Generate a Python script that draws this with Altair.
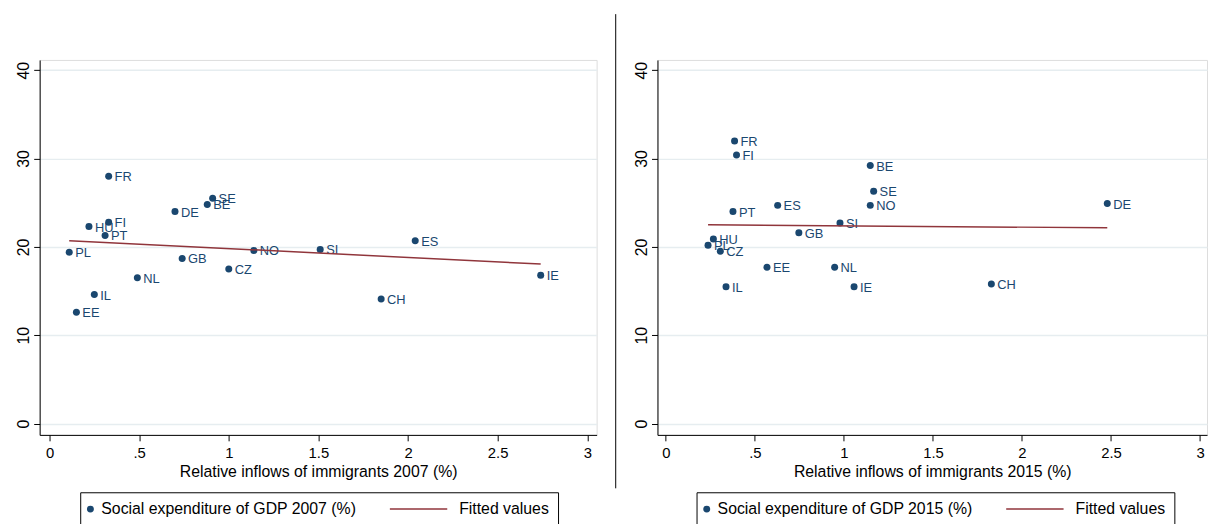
import altair as alt
import pandas as pd

# ---------------- data ----------------
countries_2007 = ["PL", "EE", "IL", "HU", "FI", "PT", "FR", "NL", "DE",
                  "GB", "BE", "SE", "CZ", "NO", "SI", "CH", "ES", "IE"]
inflows_2007 = [0.11, 0.15, 0.25, 0.22, 0.33, 0.31, 0.33, 0.49, 0.70,
                0.74, 0.88, 0.91, 1.00, 1.14, 1.51, 1.85, 2.04, 2.74]
social_2007 = [19.4, 12.6, 14.6, 22.3, 22.8, 21.3, 28.0, 16.5, 24.0,
               18.7, 24.8, 25.5, 17.5, 19.6, 19.7, 14.1, 20.7, 16.8]

countries_2015 = ["FR", "FI", "BE", "SE", "NO", "ES", "PT", "SI", "GB",
                  "HU", "PL", "CZ", "EE", "NL", "IL", "IE", "DE", "CH"]
inflows_2015 = [0.386, 0.397, 1.148, 1.167, 1.148, 0.628, 0.377, 0.978, 0.747,
                0.267, 0.237, 0.306, 0.568, 0.948, 0.338, 1.057, 2.479, 1.828]
social_2015 = [32.0, 30.4, 29.2, 26.3, 24.7, 24.7, 24.0, 22.7, 21.6,
               20.9, 20.2, 19.5, 17.7, 17.7, 15.5, 15.5, 24.9, 15.8]

series_2007 = "Social expenditure of GDP 2007 (%)"
series_2015 = "Social expenditure of GDP 2015 (%)"
fit_label = "Fitted values"
xtitle_2007 = "Relative inflows of immigrants 2007 (%)"
xtitle_2015 = "Relative inflows of immigrants 2015 (%)"

x_ticks = [0, 0.5, 1, 1.5, 2, 2.5, 3]
y_ticks = [0, 10, 20, 30, 40]

# ---------------- style ----------------
NAVY = "#1a476f"
MAROON = "#90353b"
GRID = "#e6edf0"
FONT = "Liberation Sans"
# legend glyph for the fitted line: a thin bar (path scaled by sqrt(size)/2)
LINE_PATH = "M-0.371,-0.214L16.2,-0.214L16.2,0.214L-0.371,0.214Z"
# zero-width space keeps the no-break spaces from being trimmed
LABEL_GAP = "\u200b" + "\u00a0" * 13

PLOT_H = 379
Y_DOMAIN = [-1.28, 41.16]


def make_df(countries, inflows, social, series):
    return pd.DataFrame({"country": countries, "inflow": inflows,
                         "social": social, "series": [series] * len(countries)})


def make_legend(legend_x):
    wanted = dict(
        orient="none", legendX=legend_x, legendY=437, direction="horizontal",
        title=None, strokeColor="black", fillColor="white",
        padding=9, cornerRadius=0, symbolSize=49, symbolOffset=-6.7,
        symbolStrokeWidth=0, symbolOpacity=1, labelFont=FONT, labelFontSize=16,
        labelColor="black", labelLimit=500, columnPadding=33, labelOffset=3,
        labelExpr=f"datum.value === '{fit_label}' ? '{LABEL_GAP}' + datum.label : datum.label",
    )
    ok = {}
    for k, v in wanted.items():
        try:
            alt.Legend(**{k: v})
            ok[k] = v
        except Exception:
            if k == "symbolOffset":
                ok[k] = 0
    return alt.Legend(**ok)


def panel(df, series_label, xtitle, xdomain, width, legend_x, separator=False):
    dom = [series_label, fit_label]
    leg = make_legend(legend_x)
    xaxis = alt.Axis(
        values=x_ticks, grid=False,
        labelExpr="replace(format(datum.value, '~g'), '0.', '.')",
        domainColor="black", domainWidth=1, tickColor="black", tickWidth=1,
        tickSize=6, labelFont=FONT, labelFontSize=15, labelColor="black",
        labelPadding=5, labelFlush=False, labelOverlap=False,
        titleFont=FONT, titleFontSize=16, titleFontWeight="normal",
        titleColor="black", titlePadding=3,
    )
    yaxis = alt.Axis(
        values=y_ticks, grid=True, gridColor=GRID, gridWidth=1.5,
        domainColor="black", domainWidth=1, tickColor="black", tickWidth=1,
        tickSize=6, labelAngle=-90, labelAlign="center",
        labelBaseline="alphabetic", labelFont=FONT, labelFontSize=16,
        labelColor="black", labelPadding=5, labelFlush=False,
        labelOverlap=False,
    )
    x = alt.X("inflow:Q", scale=alt.Scale(domain=xdomain, nice=False, zero=False),
              axis=xaxis, title=xtitle)
    y = alt.Y("social:Q", scale=alt.Scale(domain=Y_DOMAIN, nice=False, zero=False),
              axis=yaxis, title=None)

    base = alt.Chart(df)
    pts = base.mark_point(filled=True, size=50, opacity=1, strokeWidth=0).encode(
        x=x, y=y,
        fill=alt.Fill("series:N", scale=alt.Scale(domain=dom, range=[NAVY, MAROON]), legend=leg),
        shape=alt.Shape("series:N", scale=alt.Scale(domain=dom, range=["circle", LINE_PATH]), legend=leg),
    )
    labels = base.mark_text(align="left", baseline="middle", dx=6, dy=1,
                            font=FONT, fontSize=13, color=NAVY).encode(
        x="inflow:Q", y="social:Q", text="country:N")
    fit = (base.transform_regression("inflow", "social", method="linear")
           .transform_calculate(series=f"'{fit_label}'")
           .mark_line(strokeWidth=1.5)
           .encode(x="inflow:Q", y="social:Q",
                   stroke=alt.Stroke("series:N",
                                     scale=alt.Scale(domain=dom, range=[NAVY, MAROON]),
                                     legend=leg)))
    layers = [pts, labels, fit]
    if separator:
        sep = alt.Chart(pd.DataFrame({"k": [0]})).mark_rule(
            color="black", strokeWidth=1).encode(
            x=alt.value(582.3), y=alt.value(-46.3), y2=alt.value(433))
        layers.append(sep)
    return alt.layer(*layers).properties(width=width, height=PLOT_H)


df07 = make_df(countries_2007, inflows_2007, social_2007, series_2007)
df15 = make_df(countries_2015, inflows_2015, social_2015, series_2015)

left = panel(df07, series_2007, xtitle_2007, [-0.055, 3.052], 563, 41, separator=True)
right = panel(df15, series_2015, xtitle_2015, [-0.047, 3.039], 555.5, 39.5)

chart = (alt.hconcat(left, right, spacing=61.5, bounds="flush")
         .resolve_scale(fill="independent", stroke="independent", shape="independent")
         .properties(padding={"left": 7, "top": 1.7, "right": 0, "bottom": 0})
         .configure_view(stroke=None)
         .configure_legend(strokeWidth=1)
         .configure(font=FONT))

chart.save("out.html", embed_options={"renderer": "svg", "actions": False})
